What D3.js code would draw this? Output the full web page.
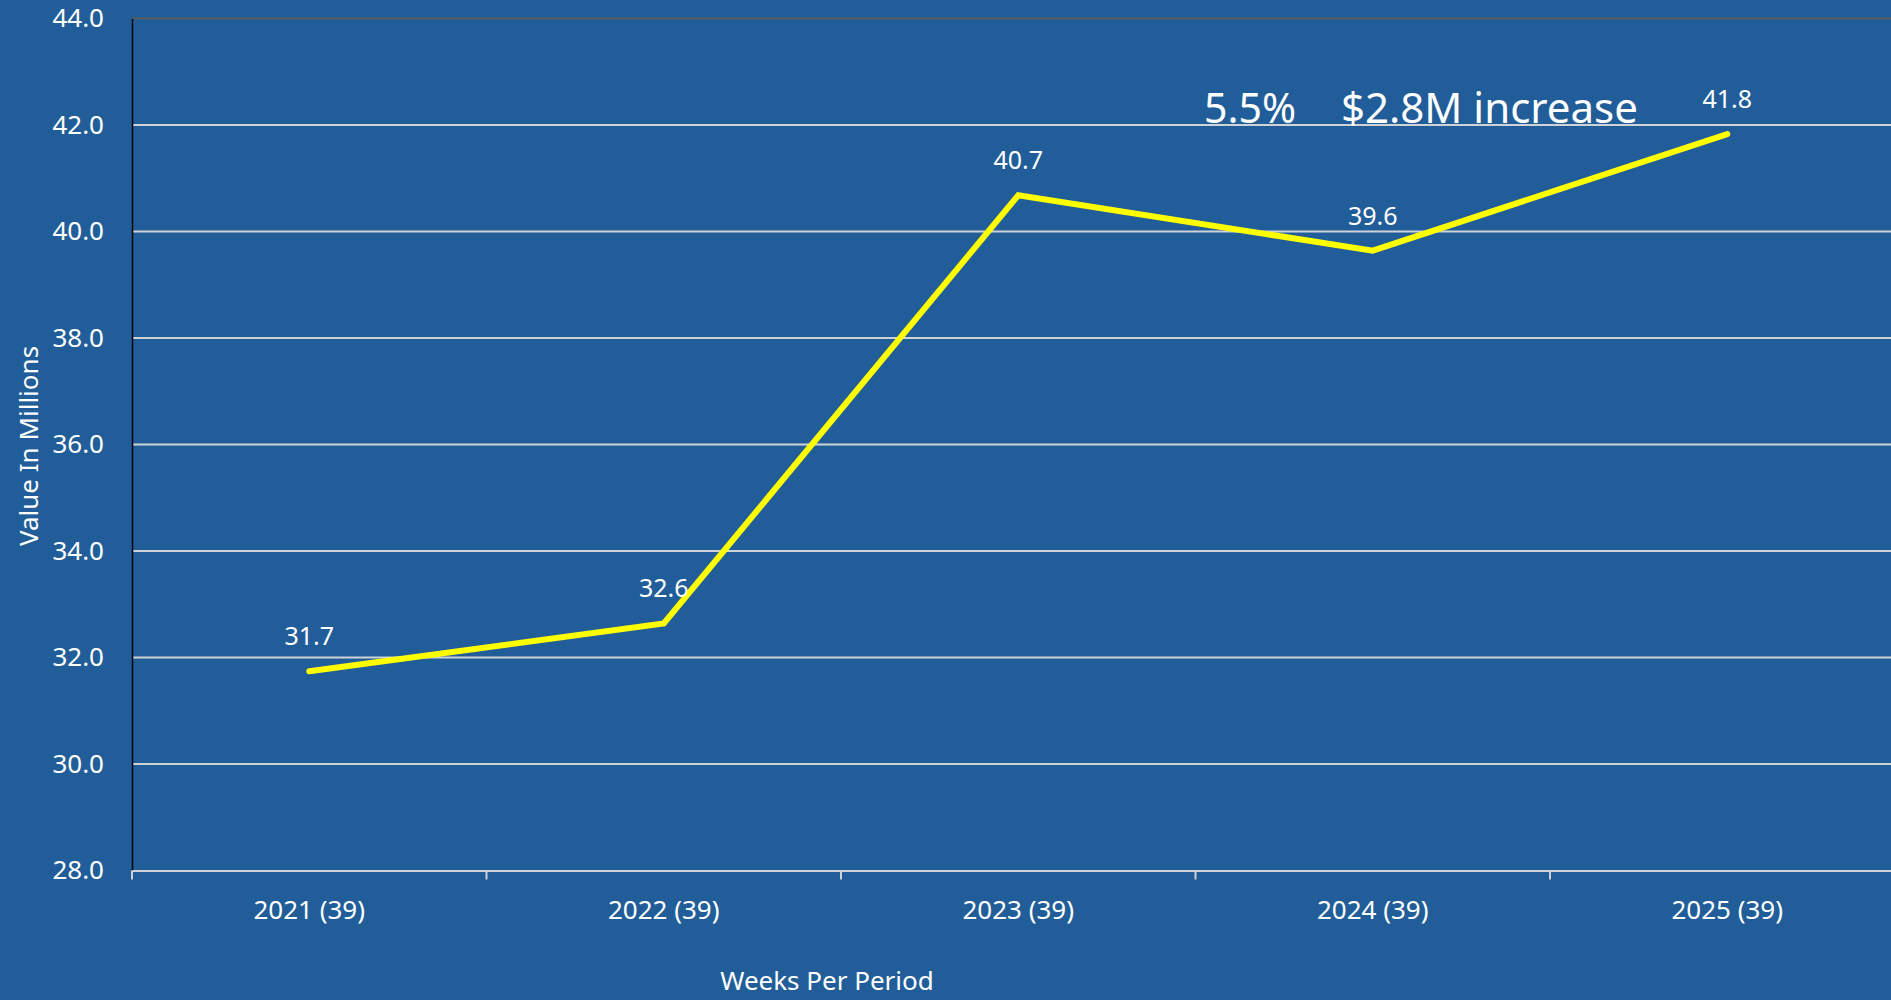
<!DOCTYPE html>
<html>
<head>
<meta charset="utf-8">
<script src="https://cdn.jsdelivr.net/npm/d3@7"></script>
<style>
  html, body { margin: 0; padding: 0; background: #215e99; overflow: hidden; }
  svg { display: block; font-family: "Noto Sans", "Open Sans", sans-serif; }
</style>
</head>
<body>
<div id="chart"></div>
<script>
// data
const periods = ["2021 (39)", "2022 (39)", "2023 (39)", "2024 (39)", "2025 (39)"];
const values = [31.74, 32.64, 40.68, 39.64, 41.83];
const yTicks = [28, 30, 32, 34, 36, 38, 40, 42, 44];
const notePct = "5.5%";
const noteAmt = "$2.8M increase";

const W = 1891, H = 1000;
const margin = { TOP: 18.5, LEFT: 132, BOTTOM: 129.5 };
const bandW = 354.5;
const FONT = "'Noto Sans', 'Open Sans', sans-serif";

const svg = d3.select("#chart").append("svg")
  .attr("width", W)
  .attr("height", H);

const x = d3.scaleBand()
  .domain(periods)
  .range([margin.LEFT, margin.LEFT + bandW * periods.length]);

const y = d3.scaleLinear()
  .domain([28, 44])
  .range([H - margin.BOTTOM, margin.TOP]);

// gridlines
svg.append("g")
  .selectAll("line")
  .data(yTicks.slice(1))
  .enter().append("line")
  .attr("x1", margin.LEFT)
  .attr("x2", W)
  .attr("y1", d => y(d))
  .attr("y2", d => y(d))
  .attr("stroke", d => d === 44 ? "#5a5a5a" : "#cfd3d8")
  .attr("stroke-width", 2);

// y axis
const yAxis = svg.append("g")
  .attr("transform", `translate(${margin.LEFT},0)`)
  .call(d3.axisLeft(y).tickValues(yTicks).tickFormat(d3.format(".1f")).tickSize(0).tickPadding(28));
yAxis.attr("font-family", FONT).attr("font-size", 26);
yAxis.select(".domain").attr("stroke", "#000").attr("stroke-width", 1.5);
yAxis.selectAll(".tick text").attr("fill", "#fff");

// x axis
const xAxis = svg.append("g")
  .attr("transform", `translate(0,${y(28)})`)
  .call(d3.axisBottom(x).tickSize(0).tickPadding(30));
xAxis.attr("font-family", FONT).attr("font-size", 26);
xAxis.select(".domain").attr("stroke", "#cfd3d8").attr("stroke-width", 2);
xAxis.selectAll(".tick text").attr("fill", "#fff");

// tick marks at band edges
svg.append("g")
  .selectAll("line")
  .data(periods)
  .enter().append("line")
  .attr("x1", d => x(d))
  .attr("x2", d => x(d))
  .attr("y1", y(28))
  .attr("y2", y(28) + 9)
  .attr("stroke", "#cfd3d8")
  .attr("stroke-width", 2);

// line
const line = d3.line()
  .x((d, i) => x(periods[i]) + x.bandwidth() / 2)
  .y(d => y(d));

svg.append("path")
  .datum(values)
  .attr("d", line)
  .attr("fill", "none")
  .attr("stroke", "#ffff00")
  .attr("stroke-width", 6)
  .attr("stroke-linecap", "round")
  .attr("stroke-linejoin", "miter");

// labels
svg.append("g")
  .selectAll("text")
  .data(values)
  .enter().append("text")
  .attr("x", (d, i) => x(periods[i]) + x.bandwidth() / 2)
  .attr("y", d => y(d) - 26)
  .attr("text-anchor", "middle")
  .attr("font-size", 25)
  .attr("fill", "#fff")
  .text(d => d3.format(".1f")(d));

// annotation
svg.append("text")
  .attr("x", 1204)
  .attr("y", 123)
  .attr("font-size", 41)
  .attr("fill", "#fff")
  .text(notePct);

svg.append("text")
  .attr("x", 1341)
  .attr("y", 123)
  .attr("font-size", 42)
  .attr("fill", "#fff")
  .text(noteAmt);

// axis titles
svg.append("text")
  .attr("transform", `translate(38,446) rotate(-90)`)
  .attr("text-anchor", "middle")
  .attr("font-size", 26)
  .attr("fill", "#fff")
  .text("Value In Millions");

svg.append("text")
  .attr("x", 827)
  .attr("y", 990)
  .attr("text-anchor", "middle")
  .attr("font-size", 26)
  .attr("fill", "#fff")
  .text("Weeks Per Period");
</script>
</body>
</html>
